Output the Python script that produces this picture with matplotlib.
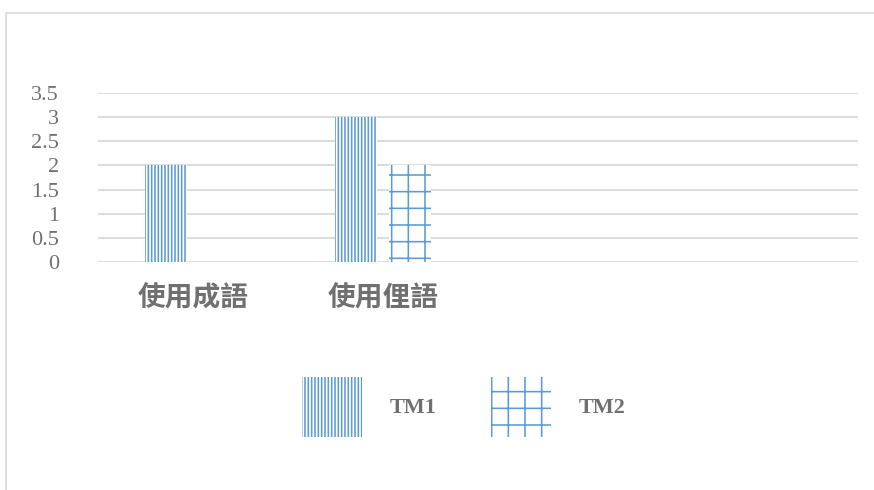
import matplotlib
matplotlib.use("Agg")
import matplotlib.pyplot as plt
from matplotlib.lines import Line2D
import numpy as np

categories = ['使用成語', '使用俚語', '', '']
series_names = ['TM1', 'TM2']
tm1 = [2, 3, 0, 0]
tm2 = [0, 2, 0, 0]
yticks = [0, 0.5, 1, 1.5, 2, 2.5, 3, 3.5]
ytick_labels = ['0', '0.5', '1', '1.5', '2', '2.5', '3', '3.5']

blue = '#5B9BD5'
gray_text = '#707070'
grid_gray = '#D9D9D9'

plt.rcParams['hatch.linewidth'] = 1.15
plt.rcParams['hatch.color'] = blue

fig = plt.figure(figsize=(8.74, 4.9), dpi=100)
ax = fig.add_axes([98/874, 1-262/490, 760/874, 169/490])

x = np.arange(len(categories))
w = 0.22
off = 0.143
b1 = ax.bar(x - off, tm1, w, facecolor='white', edgecolor=blue, linewidth=0,
            hatch='|||||', label=series_names[0], zorder=3)
b2 = ax.bar(x + off, tm2, w, facecolor='white', edgecolor=blue, linewidth=0,
            hatch='+', label=series_names[1], zorder=3)

ax.set_xlim(-0.5, len(categories) - 0.5)
ax.set_ylim(0, 3.5)
ax.set_yticks(yticks)
ax.set_yticklabels(ytick_labels, family='Liberation Serif', fontsize=16, color=gray_text)
ax.set_xticks(x)
ax.set_xticklabels(categories, family=['Noto Sans CJK TC', 'DejaVu Sans'], fontsize=20,
                   color=gray_text, fontweight='bold')
ax.tick_params(axis='y', length=0, pad=28)
ax.tick_params(axis='x', length=0, pad=16)
for s in ax.spines.values():
    s.set_visible(False)
ax.yaxis.grid(True, color=grid_gray, linewidth=1.3, zorder=0)
ax.set_axisbelow(True)

leg = fig.legend(handles=[b1, b2], labels=series_names, loc='center',
                 bbox_to_anchor=(464/874, 1-407/490), ncol=2, frameon=False,
                 prop={'family': 'Liberation Serif', 'size': 16, 'weight': 'bold'},
                 handlelength=2.7, handleheight=3.78, handletextpad=1.26,
                 columnspacing=2.43)
for t in leg.get_texts():
    t.set_color(gray_text)

# chart border
fig.add_artist(Line2D([6/874, 1.0], [1-13/490, 1-13/490], color=grid_gray, linewidth=1.2))
fig.add_artist(Line2D([6/874, 6/874], [1-13/490, 0.0], color=grid_gray, linewidth=1.2))

fig.savefig('out.png', dpi=100, facecolor='white')
